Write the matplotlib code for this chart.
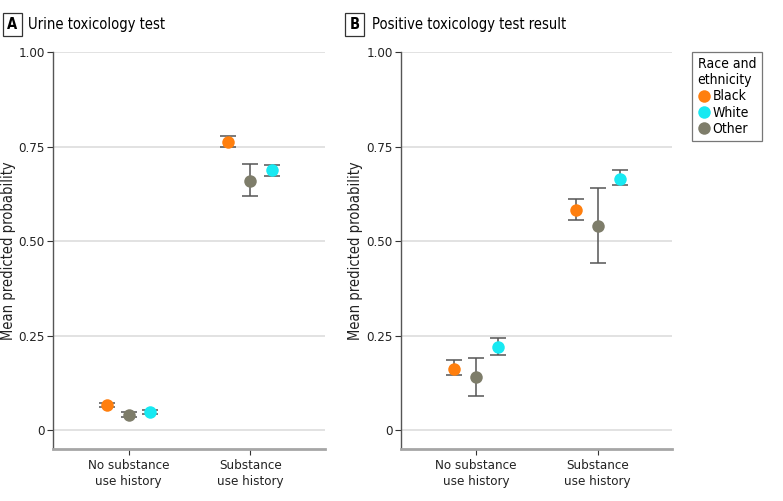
"""Mean predicted probability of toxicology testing by race and substance use history."""

import matplotlib
matplotlib.use("Agg")
import matplotlib.pyplot as plt
from matplotlib.lines import Line2D
from matplotlib import font_manager

# condensed face if the system has one
cond = [f for f in font_manager.fontManager.ttflist
        if f.name == "DejaVu Sans" and f.stretch == "condensed"]
if cond:
    plt.rcParams["font.family"] = ["DejaVu Sans"]
    plt.rcParams["font.stretch"] = "condensed"
else:
    plt.rcParams["font.family"] = ["Lato", "DejaVu Sans"]

categories = ["No substance\nuse history", "Substance\nuse history"]
groups = ["Black", "Other", "White"]
legend_order = ["Black", "White", "Other"]
colors = {"Black": "#FF7F0E", "White": "#17E9F2", "Other": "#7E7D6A"}
offsets = {"Black": -0.18, "Other": 0.0, "White": 0.18}

# panel A: urine toxicology test (mean, lower, upper)
urine_mean = {"Black": [0.066, 0.762], "Other": [0.040, 0.660], "White": [0.047, 0.687]}
urine_lo = {"Black": [0.060, 0.748], "Other": [0.034, 0.620], "White": [0.042, 0.673]}
urine_hi = {"Black": [0.072, 0.778], "Other": [0.047, 0.703], "White": [0.052, 0.701]}

# panel B: positive toxicology test result
pos_mean = {"Black": [0.162, 0.582], "Other": [0.140, 0.540], "White": [0.221, 0.665]}
pos_lo = {"Black": [0.145, 0.555], "Other": [0.090, 0.441], "White": [0.200, 0.648]}
pos_hi = {"Black": [0.185, 0.612], "Other": [0.190, 0.640], "White": [0.243, 0.687]}

yticks = [0, 0.25, 0.50, 0.75, 1.00]
ytick_labels = ["0", "0.25", "0.50", "0.75", "1.00"]

fig = plt.figure(figsize=(7.83, 5.01), dpi=100)
ax_a = fig.add_axes([0.0677, 0.1038, 0.347, 0.792])
ax_b = fig.add_axes([0.512, 0.1038, 0.346, 0.792])

FS = 9.5


def draw_panel(ax, mean, lo, hi):
    for g in groups:
        xs = [i + offsets[g] for i in range(len(categories))]
        yerr = [[m - l for m, l in zip(mean[g], lo[g])],
                [h - m for m, h in zip(mean[g], hi[g])]]
        ax.errorbar(xs, mean[g], yerr=yerr, fmt="none", ecolor="#555555",
                    elinewidth=1.1, capsize=6, capthick=1.1, zorder=2)
        ax.plot(xs, mean[g], "o", color=colors[g], markersize=9,
                markeredgewidth=0, zorder=3)
    ax.set_xlim(-0.62, 1.61)
    ax.set_ylim(-0.05, 1.0)
    ax.set_yticks(yticks)
    ax.set_yticklabels(ytick_labels, fontsize=FS, color="#222222")
    ax.set_xticks(range(len(categories)))
    ax.set_xticklabels(categories, fontsize=FS, color="#222222", linespacing=1.3)
    ax.grid(axis="y", color="#DDDDDD", linewidth=1.2)
    ax.set_axisbelow(True)
    for s in ["top", "right"]:
        ax.spines[s].set_visible(False)
    ax.spines["left"].set_color("#555555")
    ax.spines["left"].set_linewidth(1.0)
    ax.spines["bottom"].set_color("#A6A6A6")
    ax.spines["bottom"].set_linewidth(2.0)
    ax.tick_params(axis="y", length=4, color="#333333", width=0.8, pad=2)
    ax.tick_params(axis="x", length=4, color="#333333", width=0.8, pad=3)
    ax.set_ylabel("Mean predicted probability", fontsize=10.5, color="#222222", labelpad=2)


draw_panel(ax_a, urine_mean, urine_lo, urine_hi)
draw_panel(ax_b, pos_mean, pos_lo, pos_hi)

box = dict(boxstyle="square,pad=0.3", facecolor="white", edgecolor="#333333", linewidth=0.9)
fig.text(0.0155, 0.951, "A", fontsize=10.5, fontweight="bold", ha="center", va="center", bbox=box)
fig.text(0.036, 0.951, "Urine toxicology test", fontsize=10.5, ha="left", va="center")
fig.text(0.453, 0.951, "B", fontsize=10.5, fontweight="bold", ha="center", va="center", bbox=box)
fig.text(0.4745, 0.951, "Positive toxicology test result", fontsize=10.5, ha="left", va="center")

handles = [Line2D([], [], marker="o", linestyle="none", color=colors[g],
                  markersize=9, markeredgewidth=0, label=g) for g in legend_order]
leg = fig.legend(handles=handles, title="Race and\nethnicity", loc="upper left",
                 bbox_to_anchor=(0.884, 0.897), borderaxespad=0, frameon=True,
                 fontsize=10, title_fontsize=10, handletextpad=0.15, handlelength=0.9,
                 borderpad=0.4, labelspacing=0.15, fancybox=False)
leg.get_frame().set_edgecolor("#555555")
leg.get_frame().set_linewidth(0.9)
leg._legend_box.align = "left"

fig.savefig("out.png", dpi=100)
plt.close(fig)
